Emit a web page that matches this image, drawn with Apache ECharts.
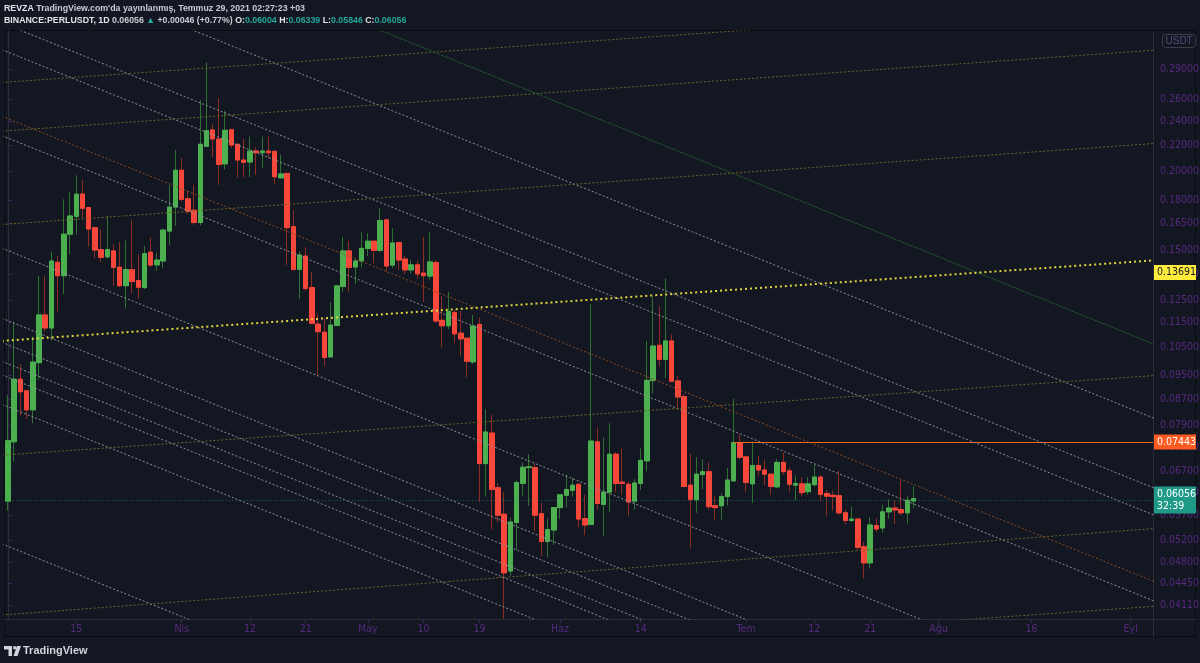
<!DOCTYPE html>
<html>
<head>
<meta charset="utf-8">
<script src="https://cdn.jsdelivr.net/npm/echarts@6/dist/echarts.min.js"></script>
<style>
  html, body { margin: 0; padding: 0; background: #131722; }
  #chart { width: 1200px; height: 663px; }
</style>
</head>
<body>
<div id="chart"></div>
<script>
// PERLUSDT, 1D mumlar, ilk mum 2021-03-04
const startDate = '2021-03-04';
const opens = [0.0600,0.0745,0.0936,0.0897,0.0837,0.0994,0.1183,0.1128,0.1433,0.1365,
  0.1588,0.1695,0.1838,0.1750,0.1626,0.1501,0.1462,0.1494,0.1408,0.1316,
  0.1395,0.1341,0.1307,0.1487,0.1420,0.1440,0.1606,0.1753,0.2005,0.1807,
  0.1733,0.1657,0.2188,0.2322,0.2246,0.2052,0.2324,0.2204,0.2081,0.2066,
  0.2150,0.2137,0.2150,0.2148,0.1950,0.1982,0.1632,0.1397,0.1466,0.1307,
  0.1144,0.1111,0.1015,0.1138,0.1312,0.1494,0.1409,0.1440,0.1507,0.1548,
  0.1497,0.1673,0.1419,0.1540,0.1450,0.1394,0.1420,0.1378,0.1363,0.1432,
  0.1160,0.1137,0.1194,0.1107,0.1087,0.0997,0.1143,0.0688,0.0769,0.0630,
  0.0572,0.0465,0.0555,0.0640,0.0678,0.0678,0.0573,0.0518,0.0540,0.0586,
  0.0613,0.0624,0.0638,0.0563,0.0551,0.0745,0.0593,0.0620,0.0712,0.0643,
  0.0638,0.0600,0.0640,0.0695,0.0931,0.1059,0.1006,0.1076,0.0930,0.0878,
  0.0636,0.0603,0.0661,0.0668,0.0590,0.0590,0.0610,0.0646,0.0743,0.0705,
  0.0639,0.0683,0.0672,0.0662,0.0632,0.0691,0.0670,0.0636,0.0639,0.0621,
  0.0637,0.0655,0.0617,0.0613,0.0612,0.0575,0.0559,0.0562,0.0508,0.0479,
  0.0549,0.0544,0.0577,0.0585,0.0582,0.0575,0.06004];
const highs = [0.0884,0.1154,0.0989,0.0900,0.1093,0.1365,0.1365,0.1490,0.1466,0.1803,
  0.1852,0.1968,0.1935,0.1752,0.1630,0.1616,0.1697,0.1532,0.1544,0.1551,
  0.1673,0.1477,0.1521,0.1569,0.1483,0.1620,0.1900,0.2158,0.2095,0.1864,
  0.1900,0.2587,0.2972,0.2370,0.2611,0.2488,0.2332,0.2206,0.2247,0.2266,
  0.2180,0.2266,0.2266,0.2150,0.2119,0.1985,0.1735,0.1490,0.1512,0.1382,
  0.1189,0.1170,0.1239,0.1320,0.1572,0.1549,0.1454,0.1599,0.1594,0.1550,
  0.1745,0.1675,0.1622,0.1542,0.1470,0.1445,0.1441,0.1572,0.1602,0.1444,
  0.1268,0.1288,0.1205,0.1201,0.1088,0.1183,0.1171,0.0839,0.0822,0.0641,
  0.0620,0.0565,0.0647,0.0691,0.0712,0.0688,0.0596,0.0564,0.0587,0.0615,
  0.0661,0.0654,0.0639,0.0614,0.1231,0.0786,0.0756,0.0797,0.0717,0.0727,
  0.0644,0.0650,0.0727,0.1076,0.1265,0.1221,0.1352,0.1102,0.0948,0.0886,
  0.0714,0.0705,0.0699,0.0692,0.0611,0.0617,0.0677,0.0871,0.0764,0.0706,
  0.0743,0.0708,0.0699,0.0663,0.0700,0.0716,0.0679,0.0659,0.0654,0.0655,
  0.0685,0.0659,0.0625,0.0623,0.0670,0.0582,0.0589,0.0564,0.0517,0.0566,
  0.0564,0.0592,0.0604,0.0601,0.0648,0.0611,0.06339];
const lows = [0.0580,0.0693,0.0820,0.0810,0.0797,0.0935,0.1112,0.1077,0.1198,0.1276,
  0.1475,0.1587,0.1683,0.1517,0.1454,0.1433,0.1454,0.1315,0.1309,0.1211,
  0.1280,0.1255,0.1300,0.1407,0.1390,0.1404,0.1526,0.1637,0.1788,0.1712,
  0.1643,0.1639,0.2186,0.2103,0.1900,0.2010,0.2174,0.1951,0.1954,0.1956,
  0.1973,0.2023,0.2093,0.1905,0.1942,0.1419,0.1392,0.1254,0.1291,0.1144,
  0.0948,0.0982,0.1014,0.1137,0.1288,0.1288,0.1326,0.1407,0.1466,0.1429,
  0.1490,0.1387,0.1404,0.1394,0.1372,0.1375,0.1349,0.1241,0.1346,0.1150,
  0.1051,0.1124,0.1067,0.1018,0.0942,0.0989,0.0598,0.0610,0.0541,0.0555,
  0.0391,0.0457,0.0502,0.0611,0.0590,0.0537,0.0491,0.0489,0.0512,0.0562,
  0.0586,0.0610,0.0545,0.0530,0.0550,0.0582,0.0528,0.0577,0.0620,0.0614,
  0.0568,0.0581,0.0625,0.0669,0.0888,0.0981,0.0939,0.0926,0.0837,0.0631,
  0.0505,0.0575,0.0627,0.0582,0.0561,0.0561,0.0591,0.0644,0.0699,0.0621,
  0.0596,0.0658,0.0636,0.0614,0.0630,0.0661,0.0621,0.0602,0.0610,0.0614,
  0.0633,0.0600,0.0568,0.0580,0.0570,0.0551,0.0556,0.0502,0.0453,0.0469,
  0.0536,0.0535,0.0563,0.0552,0.0570,0.0553,0.05846];
const closes = [0.0748,0.0936,0.0894,0.0837,0.0996,0.1183,0.1128,0.1440,0.1365,0.1588,
  0.1697,0.1837,0.1745,0.1618,0.1499,0.1459,0.1501,0.1407,0.1316,0.1396,
  0.1336,0.1309,0.1479,0.1419,0.1445,0.1612,0.1753,0.2005,0.1803,0.1724,
  0.1657,0.2204,0.2316,0.2248,0.2048,0.2319,0.2198,0.2081,0.2064,0.2150,
  0.2137,0.2150,0.2137,0.1958,0.1978,0.1626,0.1396,0.1472,0.1303,0.1147,
  0.1113,0.1013,0.1140,0.1315,0.1494,0.1407,0.1440,0.1508,0.1548,0.1497,
  0.1669,0.1414,0.1538,0.1445,0.1394,0.1420,0.1374,0.1365,0.1435,0.1157,
  0.1137,0.1198,0.1104,0.1084,0.0999,0.1136,0.0688,0.0772,0.0626,0.0570,
  0.0462,0.0556,0.0642,0.0679,0.0680,0.0570,0.0518,0.0541,0.0586,0.0614,
  0.0626,0.0636,0.0562,0.0550,0.0747,0.0595,0.0620,0.0712,0.0640,0.0640,
  0.0598,0.0641,0.0696,0.0932,0.1056,0.1006,0.1076,0.0929,0.0877,0.0633,
  0.0604,0.0662,0.0668,0.0588,0.0586,0.0610,0.0648,0.0743,0.0704,0.0642,
  0.0683,0.0672,0.0662,0.0633,0.0691,0.0668,0.0638,0.0640,0.0619,0.0639,
  0.0655,0.0615,0.0611,0.0610,0.0575,0.0559,0.0562,0.0507,0.0479,0.0550,
  0.0542,0.0577,0.0585,0.0581,0.0575,0.0602,0.06056];

// zaman ekseni etiketleri
const timeTicks = ['2021-03-15','2021-04-01','2021-04-12','2021-04-21','2021-05-01','2021-05-10','2021-05-19',
  '2021-06-01','2021-06-14','2021-07-01','2021-07-12','2021-07-21','2021-08-01','2021-08-16','2021-09-01'];
const timeLabels = ['15','Nis','12','21','May','10','19','Haz','14','Tem','12','21','Ağu','16','Eyl'];
// fiyat ekseni etiketleri (log ölçek)
const priceTicks = [0.29,0.26,0.24,0.22,0.20,0.18,0.165,0.15,0.137,0.125,0.115,0.105,0.095,0.087,0.079,
  0.073,0.067,0.062,0.057,0.052,0.048,0.0445,0.0411];

// çizimler: [tarih1, fiyat1, tarih2, fiyat2]
const whiteLines = [
  ['2021-03-03', 0.4426, '2021-09-05', 0.0810],
  ['2021-03-03', 0.3432, '2021-09-05', 0.0628],
  ['2021-03-03', 0.3112, '2021-09-05', 0.0569],
  ['2021-03-03', 0.2275, '2021-09-05', 0.0416],
  ['2021-03-03', 0.1509, '2021-09-05', 0.0276],
  ['2021-03-03', 0.1169, '2021-09-05', 0.02129],
  ['2021-03-03', 0.1071, '2021-09-05', 0.01960],
  ['2021-03-03', 0.0999, '2021-09-05', 0.01828],
  ['2021-03-03', 0.0951, '2021-09-05', 0.01739],
  ['2021-03-03', 0.0854, '2021-09-05', 0.01563],
  ['2021-03-03', 0.05135, '2021-09-05', 0.00939]
];
const oliveLines = [
  ['2021-03-03', 0.2761, '2021-09-05', 0.3710],
  ['2021-03-03', 0.2312, '2021-09-05', 0.3107],
  ['2021-03-03', 0.1645, '2021-09-05', 0.2211],
  ['2021-03-03', 0.07094, '2021-09-05', 0.09487],
  ['2021-03-03', 0.03960, '2021-09-05', 0.05432],
  ['2021-03-03', 0.03047, '2021-09-05', 0.04090]
];
const orangeLine = ['2021-03-03', 0.2441, '2021-09-05', 0.04467];
const greenLine = ['2021-03-03', 0.5846, '2021-09-05', 0.1061];
const yellowLine = ['2021-03-03', 0.1076, '2021-09-05', 0.1444];
const levelStart = '2021-06-29';
const levelPrice = 0.07443;
const yellowPrice = 0.13691;
const lastPrice = 0.06056;

const priceMin = 0.03904, priceMax = 0.3331;
const dayMin = -0.65, dayMax = 184.6;

const lg = Math.log10;
const dayOf = d => (Date.parse(d) - Date.parse(startDate)) / 86400000;
const tickDays = timeTicks.map(dayOf);
const axisFont = "'Liberation Sans Narrow', 'DejaVu Sans Condensed', 'Liberation Sans', sans-serif";
const purple = '#56297f';

const wickData = opens.map((o, i) => [i, lg(o), lg(closes[i]), lg(lows[i]), lg(highs[i])]);
const bodyData = opens.map((o, i) => [i, lg(o), lg(closes[i]),
  lg(Math.min(o, closes[i])), lg(Math.max(o, closes[i]))]);

function drawLine(l, style) {
  return {
    type: 'line', silent: true, clip: true, symbol: 'none', z: 5, animation: false,
    data: [[dayOf(l[0]), lg(l[1])], [dayOf(l[2]), lg(l[3])]],
    lineStyle: style
  };
}

const series = [
  {
    type: 'candlestick', z: 2, barWidth: 5, data: wickData, silent: true,
    itemStyle: { color: '#2f7134', color0: '#8f2b24', borderColor: '#2f7134', borderColor0: '#8f2b24', borderWidth: 1 }
  },
  {
    type: 'candlestick', z: 3, barWidth: 5, data: bodyData, silent: true,
    itemStyle: { color: '#4caf50', color0: '#f7473b', borderColor: '#4caf50', borderColor0: '#f7473b', borderWidth: 1 }
  }
];
whiteLines.forEach(l => series.push(drawLine(l, { color: '#8e919a', width: 1, type: [2, 2] })));
oliveLines.forEach(l => series.push(drawLine(l, { color: '#6e6522', width: 1, type: [2, 2] })));
series.push(drawLine(orangeLine, { color: '#8c4b1f', width: 1, type: [2, 2] }));
series.push(drawLine(greenLine, { color: '#23682d', width: 1, type: [2, 1] }));
series.push(drawLine(yellowLine, { color: '#e4d43a', width: 2, type: [2, 3] }));

// fiyat etiketleri
const tagLabel = (bg, fg) => ({
  show: true, position: 'end', distance: 1, backgroundColor: bg, color: fg,
  padding: [2, 3, 1, 3], width: 36, fontSize: 10.5, lineHeight: 12, fontFamily: axisFont
});
series.push({
  type: 'line', data: [], z: 6, silent: true, clip: false, animation: false,
  markLine: {
    silent: true, symbol: 'none', animation: false,
    data: [
      { yAxis: lg(yellowPrice), lineStyle: { color: 'rgba(0,0,0,0)' },
        label: Object.assign(tagLabel('#ffeb3b', '#131722'), { formatter: yellowPrice.toFixed(5) }) },
      [ { coord: [dayOf(levelStart), lg(levelPrice)], lineStyle: { color: '#f26522', width: 1, type: 'solid' },
          label: Object.assign(tagLabel('#ff5a1f', '#ffffff'), { formatter: levelPrice.toFixed(5) }) },
        { coord: [dayMax, lg(levelPrice)] } ],
      { yAxis: lg(lastPrice), lineStyle: { color: 'rgba(38,166,154,0.45)', width: 1, type: [1, 2] },
        label: Object.assign(tagLabel('#1f9a89', '#ffffff'), { formatter: lastPrice.toFixed(5) + '\n32:39' }) }
    ]
  }
});

const headFont = 'Liberation Sans';
const hs = 8.8;
const chart = echarts.init(document.getElementById('chart'));
chart.setOption({
  backgroundColor: '#131722',
  animation: false,
  title: {
    left: 4, top: 3, padding: 0,
    text: '{b|REVZA} {n|TradingView.com\'da yayınlanmış, Temmuz 29, 2021 02:27:23 +03}\n' +
      '{b|BINANCE:PERLUSDT, 1D} {n|0.06056} {g|▲} {n|+0.00046 (+0.77%)} {b|O:}{g|0.06004} {b|H:}{g|0.06339} {b|L:}{g|0.05846} {b|C:}{g|0.06056}',
    textStyle: {
      fontSize: hs, lineHeight: 11.5, fontFamily: headFont,
      rich: {
        b: { color: '#e1e3ea', fontWeight: 'bold', fontSize: hs, lineHeight: 11.5, fontFamily: headFont },
        n: { color: '#c9ccd4', fontSize: hs, lineHeight: 11.5, fontFamily: headFont },
        g: { color: '#26a69a', fontSize: hs, lineHeight: 11.5, fontFamily: headFont }
      }
    }
  },
  grid: { left: 4, right: 47, top: 31, bottom: 44, containLabel: false, outerBoundsMode: 'none' },
  xAxis: {
    type: 'value', min: dayMin, max: dayMax,
    axisLine: { show: true, lineStyle: { color: '#2a2e39' } },
    axisTick: { show: true, customValues: tickDays, length: 4, lineStyle: { color: '#3b2757' } },
    axisLabel: {
      customValues: tickDays, color: purple, fontSize: 10.5, margin: 5, fontFamily: axisFont,
      formatter: v => timeLabels[tickDays.indexOf(Math.round(v))]
    },
    splitLine: { show: false }
  },
  yAxis: {
    type: 'value', position: 'right', min: lg(priceMin), max: lg(priceMax),
    axisLine: { show: true, lineStyle: { color: '#2a2e39' } },
    axisTick: { show: true, customValues: priceTicks.map(lg), length: 4, lineStyle: { color: '#3b2757' } },
    axisLabel: {
      customValues: priceTicks.map(lg), color: purple, fontSize: 10.5, margin: 7, fontFamily: axisFont,
      formatter: v => Math.pow(10, v).toFixed(5)
    },
    splitLine: { show: false }
  },
  series: series,
  graphic: [
    { type: 'rect', silent: true, z: 0, shape: { x: 4.5, y: 30.5, width: 1191, height: 606 },
      style: { fill: 'none', stroke: '#090b10', lineWidth: 1 } },
    { type: 'line', silent: true, shape: { x1: 1153.5, y1: 31, x2: 1153.5, y2: 637 }, style: { stroke: '#2a2e39', lineWidth: 1 } },
    { type: 'line', silent: true, shape: { x1: 4, y1: 619.5, x2: 1196, y2: 619.5 }, style: { stroke: '#2a2e39', lineWidth: 1 } },
    { type: 'text', silent: true, left: 1162, top: 34,
      style: { text: 'USDT', fill: '#5a4a78', font: "10px 'Liberation Sans'", padding: [2, 3, 1, 3],
        borderColor: '#3a3d4a', borderWidth: 1, borderRadius: 3 } },
    { type: 'rect', silent: true, shape: { x: 4, y: 646, width: 8, height: 3.5 }, style: { fill: '#d1d4dc' } },
    { type: 'rect', silent: true, shape: { x: 8.5, y: 646, width: 3.5, height: 10 }, style: { fill: '#d1d4dc' } },
    { type: 'circle', silent: true, shape: { cx: 14.8, cy: 647.8, r: 1.8 }, style: { fill: '#d1d4dc' } },
    { type: 'polygon', silent: true, shape: { points: [[17, 646], [21, 646], [17.5, 656], [13.5, 656]] }, style: { fill: '#d1d4dc' } },
    { type: 'text', silent: true, left: 23, top: 645,
      style: { text: 'TradingView', fill: '#d1d4dc', font: "bold 11px 'Liberation Sans'" } }
  ]
});
</script>
</body>
</html>
